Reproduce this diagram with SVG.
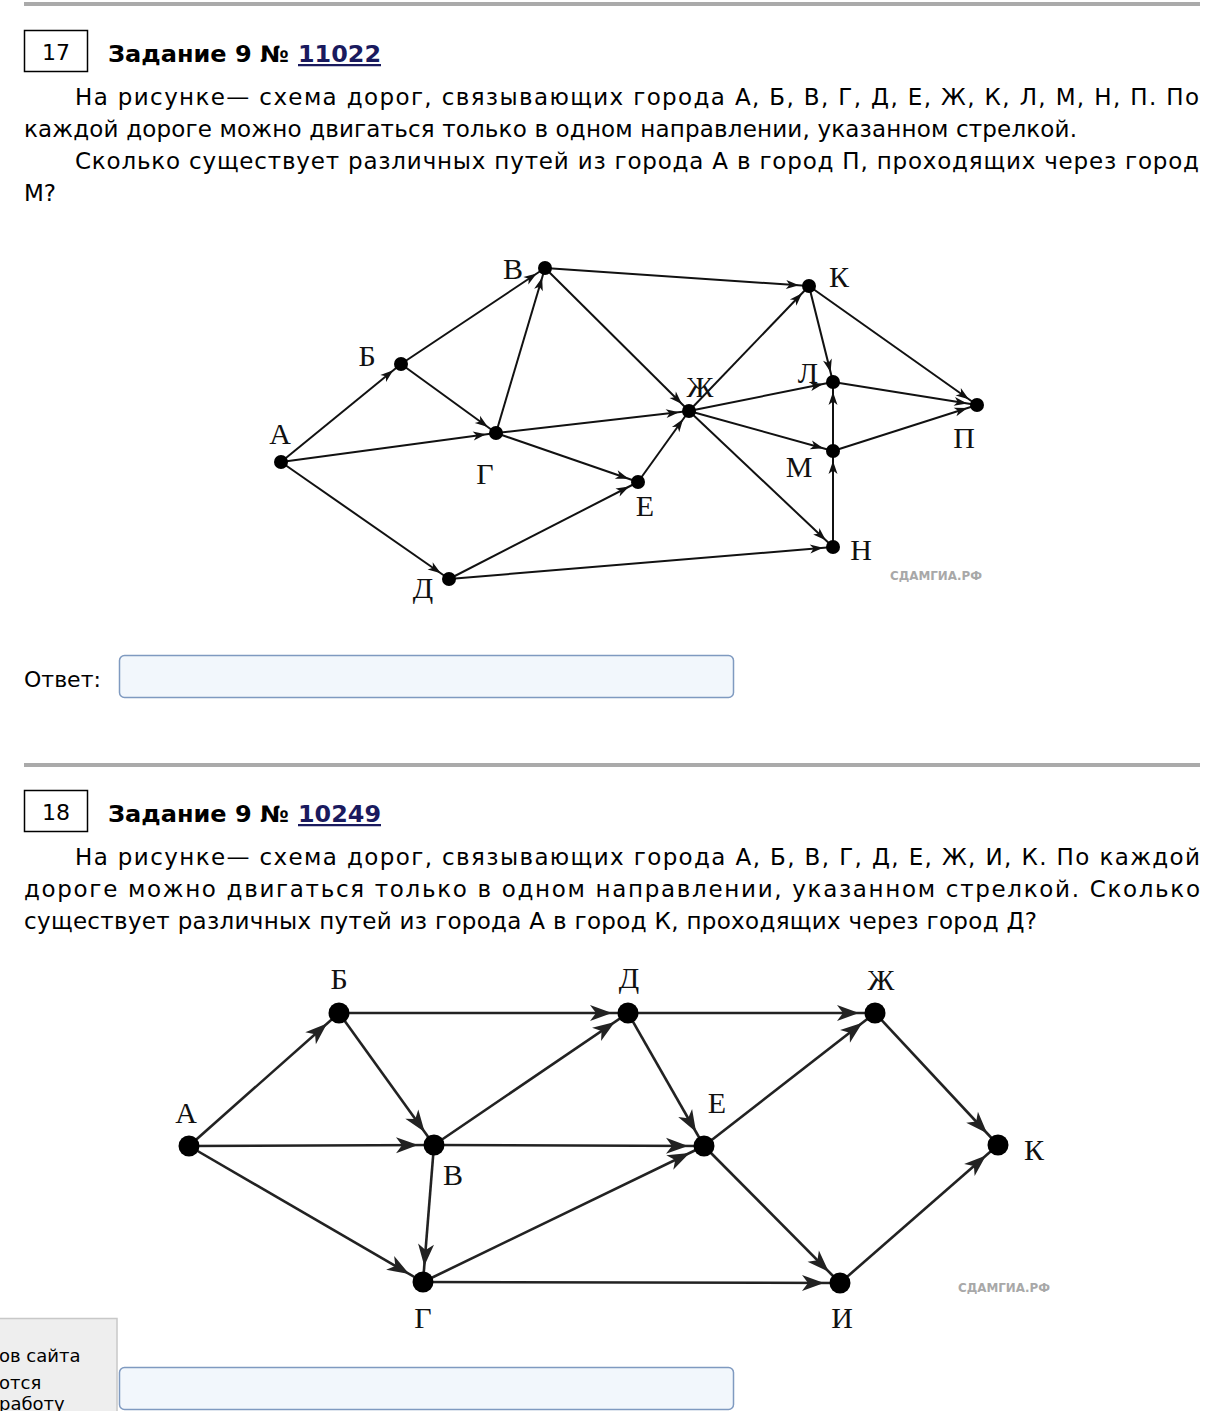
<svg xmlns="http://www.w3.org/2000/svg" width="1210" height="1411" viewBox="0 0 1210 1411">
<style>
.sep{stroke:#aaaaaa;stroke-width:4}
.nbox{fill:#fff;stroke:#000;stroke-width:1.5}
.num{font-family:"DejaVu Sans",Verdana,sans-serif;font-size:22px;fill:#000;text-anchor:middle}
.title{font-family:"DejaVu Sans",Verdana,sans-serif;font-size:22.5px;font-weight:bold;fill:#000}
.link{font-family:"DejaVu Sans",Verdana,sans-serif;font-size:22.5px;font-weight:bold;fill:#1a1a5e;text-decoration:underline}
.body{font-family:"DejaVu Sans",Verdana,sans-serif;font-size:23px;fill:#000}
.ans{font-family:"DejaVu Sans",Verdana,sans-serif;font-size:22px;fill:#000}
.inp{fill:#f2f7fc;stroke:#7f9ac0;stroke-width:1.5}
.e1{stroke:#111;stroke-width:2;fill:none;marker-end:url(#a1)}
.e2{stroke:#222;stroke-width:2.6;fill:none;marker-end:url(#a2)}
.d1{fill:#000}
.lb{font-family:"Liberation Serif","Times New Roman",serif;font-size:30px;fill:#111;text-anchor:middle}
.wm{font-family:"DejaVu Sans",Verdana,sans-serif;font-size:12px;font-weight:bold;fill:#a8a8a8}
.side{font-family:"DejaVu Sans",Verdana,sans-serif;font-size:18px;fill:#000}
</style>
<defs>
<marker id="a1" markerUnits="userSpaceOnUse" markerWidth="30" markerHeight="30" refX="23" refY="0" orient="auto" overflow="visible"><path d="M0,-4.5 L13,0 L0,4.5 L3.5,0 z" fill="#111"/></marker>
<marker id="a2" markerUnits="userSpaceOnUse" markerWidth="40" markerHeight="40" refX="38" refY="0" orient="auto" overflow="visible"><path d="M0,-8 L22,0 L0,8 L6,0 z" fill="#222"/></marker>
</defs>
<rect width="1210" height="1411" fill="#fff"/>

<!-- Task 17 header -->
<g id="task17-header">
<line class="sep" x1="24" y1="4" x2="1200" y2="4"/>
<rect class="nbox" x="24.5" y="30.5" width="63" height="41"/>
<text class="num" x="56" y="60">17</text>
<text class="title" x="108" y="62" textLength="181" lengthAdjust="spacingAndGlyphs">Задание 9 №</text>
<text class="link" x="298" y="62" textLength="83" lengthAdjust="spacingAndGlyphs">11022</text>
<text class="body" x="75" y="105" textLength="1124" lengthAdjust="spacing">На рисунке— схема дорог, связывающих города А, Б, В, Г, Д, Е, Ж, К, Л, М, Н, П. По</text>
<text class="body" x="24" y="137" textLength="1053" lengthAdjust="spacing">каждой дороге можно двигаться только в одном направлении, указанном стрелкой.</text>
<text class="body" x="75" y="169" textLength="1124" lengthAdjust="spacing">Сколько существует различных путей из города А в город П, проходящих через город</text>
<text class="body" x="24" y="201">М?</text>
</g>

<!-- Graph 1 connectors -->
<g id="g1-edges">
<line class="e1" x1="281" y1="462" x2="401" y2="364"/>
<line class="e1" x1="281" y1="462" x2="496" y2="433"/>
<line class="e1" x1="281" y1="462" x2="449" y2="579"/>
<line class="e1" x1="401" y1="364" x2="545" y2="268"/>
<line class="e1" x1="401" y1="364" x2="496" y2="433"/>
<line class="e1" x1="496" y1="433" x2="545" y2="268"/>
<line class="e1" x1="496" y1="433" x2="689" y2="411"/>
<line class="e1" x1="496" y1="433" x2="638" y2="482"/>
<line class="e1" x1="449" y1="579" x2="638" y2="482"/>
<line class="e1" x1="449" y1="579" x2="833" y2="547"/>
<line class="e1" x1="545" y1="268" x2="809" y2="286"/>
<line class="e1" x1="545" y1="268" x2="689" y2="411"/>
<line class="e1" x1="638" y1="482" x2="689" y2="411"/>
<line class="e1" x1="689" y1="411" x2="809" y2="286"/>
<line class="e1" x1="689" y1="411" x2="833" y2="382"/>
<line class="e1" x1="689" y1="411" x2="833" y2="451"/>
<line class="e1" x1="689" y1="411" x2="833" y2="547"/>
<line class="e1" x1="809" y1="286" x2="833" y2="382"/>
<line class="e1" x1="809" y1="286" x2="977" y2="405"/>
<line class="e1" x1="833" y1="382" x2="977" y2="405"/>
<line class="e1" x1="833" y1="451" x2="833" y2="382"/>
<line class="e1" x1="833" y1="451" x2="977" y2="405"/>
<line class="e1" x1="833" y1="547" x2="833" y2="451"/>
</g>

<!-- Graph 1 nodes -->
<g id="g1-A"><circle class="d1" cx="281" cy="462" r="7"/><text class="lb" x="280" y="444">А</text></g>
<g id="g1-B"><circle class="d1" cx="401" cy="364" r="7"/><text class="lb" x="367" y="366">Б</text></g>
<g id="g1-V"><circle class="d1" cx="545" cy="268" r="7"/><text class="lb" x="513" y="279">В</text></g>
<g id="g1-G"><circle class="d1" cx="496" cy="433" r="7"/><text class="lb" x="485" y="484">Г</text></g>
<g id="g1-D"><circle class="d1" cx="449" cy="579" r="7"/><text class="lb" x="423" y="598">Д</text></g>
<g id="g1-E"><circle class="d1" cx="638" cy="482" r="7"/><text class="lb" x="645" y="516">Е</text></g>
<g id="g1-Zh"><circle class="d1" cx="689" cy="411" r="7"/><text class="lb" x="700" y="397">Ж</text></g>
<g id="g1-K"><circle class="d1" cx="809" cy="286" r="7"/><text class="lb" x="839" y="287">К</text></g>
<g id="g1-L"><circle class="d1" cx="833" cy="382" r="7"/><text class="lb" x="808" y="383">Л</text></g>
<g id="g1-M"><circle class="d1" cx="833" cy="451" r="7"/><text class="lb" x="799" y="477">М</text></g>
<g id="g1-N"><circle class="d1" cx="833" cy="547" r="7"/><text class="lb" x="861" y="560">Н</text></g>
<g id="g1-P"><circle class="d1" cx="977" cy="405" r="7"/><text class="lb" x="964" y="448">П</text></g>
<text class="wm" x="890" y="580" textLength="92" lengthAdjust="spacingAndGlyphs">СДАМГИА.РФ</text>

<!-- Answer 17 -->
<g id="answer17">
<text class="ans" x="24" y="687">Ответ:</text>
<rect class="inp" x="119.5" y="655.5" width="614" height="42" rx="5"/>
</g>

<!-- Task 18 header -->
<g id="task18-header">
<line class="sep" x1="24" y1="765" x2="1200" y2="765"/>
<rect class="nbox" x="24.5" y="790.5" width="63" height="41"/>
<text class="num" x="56" y="820">18</text>
<text class="title" x="108" y="822" textLength="181" lengthAdjust="spacingAndGlyphs">Задание 9 №</text>
<text class="link" x="298" y="822" textLength="83" lengthAdjust="spacingAndGlyphs">10249</text>
<text class="body" x="75" y="865" textLength="1125" lengthAdjust="spacing">На рисунке— схема дорог, связывающих города А, Б, В, Г, Д, Е, Ж, И, К. По каждой</text>
<text class="body" x="24" y="897" textLength="1176" lengthAdjust="spacing">дороге можно двигаться только в одном направлении, указанном стрелкой. Сколько</text>
<text class="body" x="24" y="929" textLength="1013" lengthAdjust="spacing">существует различных путей из города А в город К, проходящих через город Д?</text>
</g>

<!-- Graph 2 connectors -->
<g id="g2-edges">
<line class="e2" x1="189" y1="1146" x2="339" y2="1013"/>
<line class="e2" x1="189" y1="1146" x2="434" y2="1145"/>
<line class="e2" x1="189" y1="1146" x2="423" y2="1282"/>
<line class="e2" x1="339" y1="1013" x2="628" y2="1013"/>
<line class="e2" x1="339" y1="1013" x2="434" y2="1145"/>
<line class="e2" x1="434" y1="1145" x2="628" y2="1013"/>
<line class="e2" x1="434" y1="1145" x2="704" y2="1146"/>
<line class="e2" x1="434" y1="1145" x2="423" y2="1282"/>
<line class="e2" x1="423" y1="1282" x2="704" y2="1146"/>
<line class="e2" x1="423" y1="1282" x2="840" y2="1283"/>
<line class="e2" x1="628" y1="1013" x2="875" y2="1013"/>
<line class="e2" x1="628" y1="1013" x2="704" y2="1146"/>
<line class="e2" x1="704" y1="1146" x2="875" y2="1013"/>
<line class="e2" x1="704" y1="1146" x2="840" y2="1283"/>
<line class="e2" x1="875" y1="1013" x2="998" y2="1145"/>
<line class="e2" x1="840" y1="1283" x2="998" y2="1145"/>
</g>

<!-- Graph 2 nodes -->
<g id="g2-A"><circle class="d1" cx="189" cy="1146" r="10.5"/><text class="lb" x="186" y="1123">А</text></g>
<g id="g2-B"><circle class="d1" cx="339" cy="1013" r="10.5"/><text class="lb" x="339" y="989">Б</text></g>
<g id="g2-V"><circle class="d1" cx="434" cy="1145" r="10.5"/><text class="lb" x="453" y="1185">В</text></g>
<g id="g2-G"><circle class="d1" cx="423" cy="1282" r="10.5"/><text class="lb" x="423" y="1328">Г</text></g>
<g id="g2-D"><circle class="d1" cx="628" cy="1013" r="10.5"/><text class="lb" x="629" y="988">Д</text></g>
<g id="g2-E"><circle class="d1" cx="704" cy="1146" r="10.5"/><text class="lb" x="717" y="1113">Е</text></g>
<g id="g2-Zh"><circle class="d1" cx="875" cy="1013" r="10.5"/><text class="lb" x="881" y="990">Ж</text></g>
<g id="g2-I"><circle class="d1" cx="840" cy="1283" r="10.5"/><text class="lb" x="842" y="1328">И</text></g>
<g id="g2-K"><circle class="d1" cx="998" cy="1145" r="10.5"/><text class="lb" x="1034" y="1160">К</text></g>
<text class="wm" x="958" y="1292" textLength="92" lengthAdjust="spacingAndGlyphs">СДАМГИА.РФ</text>

<!-- Answer 18 / side panel -->
<g id="answer18">
<rect class="inp" x="119.5" y="1367.5" width="614" height="42" rx="5"/>
</g>
<g id="side-panel">
<rect x="-10" y="1318.5" width="127" height="110" fill="#eeeeee" stroke="#c8c8c8" stroke-width="1.5"/>
<text class="side" x="-1" y="1362">ов сайта</text>
<text class="side" x="-1" y="1389">отся</text>
<text class="side" x="-1" y="1410">работу</text>
</g>
</svg>
